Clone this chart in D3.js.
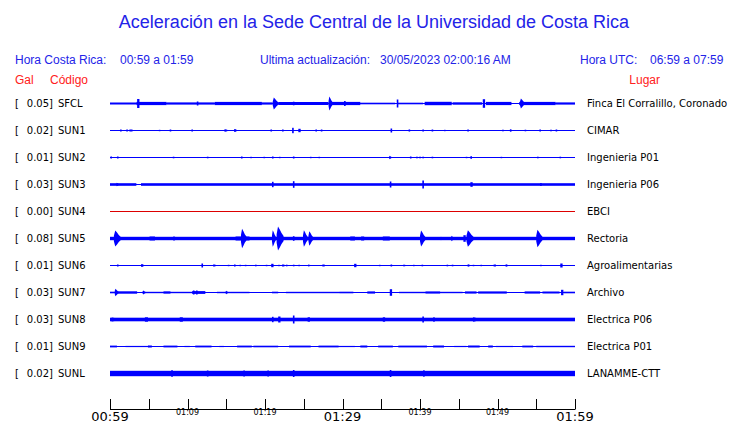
<!DOCTYPE html>
<html><head><meta charset="utf-8">
<script src="https://cdn.jsdelivr.net/npm/d3@7"></script>
<style>body{margin:0;background:#fff}svg{display:block}</style>
</head><body>
<script>
// ---------- DATA ----------
const titleText = "Aceleración en la Sede Central de la Universidad de Costa Rica";
const horaCR = "00:59 a 01:59";
const horaUTC = "06:59 a 07:59";
const updated = "30/05/2023 02:00:16 AM";
const codes = ["SFCL","SUN1","SUN2","SUN3","SUN4","SUN5","SUN6","SUN7","SUN8","SUN9","SUNL"];
const galValues = [0.05,0.02,0.01,0.03,0.00,0.08,0.01,0.03,0.03,0.01,0.02];
const places = ["Finca El Corralillo, Coronado","CIMAR","Ingenieria P01","Ingenieria P06","EBCI","Rectoria","Agroalimentarias","Archivo","Electrica P06","Electrica P01","LANAMME-CTT"];
const tickMinutes = [0,5,10,15,20,25,30,35,40,45,50,55,60];
const tickLabels = ["00:59","","01:09","","01:19","","01:29","","01:39","","01:49","","01:59"];
const majorTicks = ["00:59","01:29","01:59"];

// background bands [startMin, endMin, amplitude]
const bandSFCL = [[0,3.4,1.0],[3.4,7.3,1.6],[7.3,13.5,1.1],[13.5,19.6,1.6],[19.6,21.0,1.1],[21.7,28.2,1.5],[28.6,32.3,1.6],[32.3,36.8,0.8],[37.1,40.4,0.8],[40.6,44.1,1.7],[44.2,48.0,1.2],[48.5,51.8,1.6],[52.8,57.5,1.6],[57.5,60,1.1]];
const bandSUN1 = [];
const bandSUN2 = [];
const bandSUN3 = [[0,3.4,1.3],[4.0,60,1.3]];
const bandSUN4 = [];
const bandSUN5 = [[0,60,1.7],[5.1,5.8,2.0],[16.2,18.0,2.0],[31.0,31.6,2.0],[32.4,32.8,2.0],[35.2,36.1,2.0]];
const bandSUN6 = [];
const bandSUN7 = [[0,0.6,0.8],[1.0,3.5,1.2],[4.2,11.3,0.7],[6.9,7.8,1.1],[10.6,12.3,1.4],[13.8,15.5,0.7],[15.5,18.0,0.7],[20.9,21.7,0.8],[22.7,29.6,0.7],[29.6,31.4,0.8],[33.2,34.2,1.1],[37.3,40.7,0.7],[40.7,42.6,1.1],[42.6,45.5,0.7],[45.8,47.3,1.1],[47.5,51.2,1.1],[53.5,55.5,1.1],[55.8,58.0,1.0],[58.5,60,0.8]];
const bandSUN8 = [[0,60,1.8],[4.5,4.9,2.2],[9.0,9.4,2.2]];
const bandSUN9 = [[0,0.9,0.9],[2.0,5.1,0.6],[4.9,5.4,1.0],[6.9,8.7,0.9],[9.6,10.3,0.6],[11.0,13.1,0.9],[14.1,14.7,0.6],[16.4,18.3,0.9],[18.5,21.7,0.8],[23.1,25.9,0.9],[26.9,29.5,0.9],[29.5,31.6,0.6],[32.3,33.2,1.0],[34.6,36.5,0.9],[37.2,40.9,0.9],[41.7,43.1,1.0],[44.4,46.0,0.6],[46.2,47.7,1.0],[48.8,49.4,1.0],[49.8,52.0,0.6],[53.2,54.6,0.9],[55.0,60,0.7]];
const bandSUNL = [[0,60,2.7]];

// bursts / spikes [startMin, amplitude, durationMin]
const burstSFCL = [[3.5,4.5,0.3],[11.2,2.0,0.2],[21.0,6.0,0.7],[23.6,1.8,0.2],[28.2,7.0,0.5],[30.2,2.5,0.2],[37.0,4.0,0.2],[48.1,4.3,0.3],[52.9,5.0,0.6]];
const burstSUN1 = [[1.3,1,0.2],[2.1,1,0.1],[2.5,1,0.1],[2.7,1,0.1],[6.3,0.7,0.1],[7.7,1,0.1],[10.5,1,0.1],[14.7,1.3,0.7],[16.0,1.3,0.3],[20.7,1,0.1],[22.2,1,0.1],[23.5,2.7,0.2],[24.3,1.7,0.3],[26.5,1,0.1],[27.2,1,0.1],[36.2,2,0.2],[38.5,1.3,0.4],[40.3,1,0.2],[41.5,1,0.1],[43.1,0.7,0.1],[46.1,1,0.1],[50.6,0.8,0.1],[51.6,1.2,0.2],[53.5,0.8,0.1],[55.4,1,0.1],[56.8,0.8,0.1],[57.5,1,0.1]];
const burstSUN2 = [[0.05,1,0.1],[0.9,1,0.1],[8.1,0.8,0.1],[12.5,0.8,0.1],[16.9,1,0.1],[18.1,0.7,0.1],[19.8,0.7,0.1],[20.9,1,0.1],[21.8,0.7,0.1],[23.6,1,0.1],[25.8,0.7,0.1],[26.9,0.7,0.1],[36.0,1.7,0.4],[38.7,1,0.1],[39.5,0.8,0.1],[39.9,0.8,0.1],[40.3,0.8,0.1],[41.5,0.8,0.1],[45.9,0.7,0.1],[46.5,1.3,0.1],[50.4,0.7,0.1],[55.1,0.8,0.1],[58.0,0.8,0.1]];
const burstSUN3 = [[0.8,1.7,0.4],[20.9,2.7,0.2],[23.6,3.3,0.2],[36.1,3.0,0.2],[40.3,4.0,0.2],[46.5,2.3,0.3],[55.5,1.5,0.2]];
const burstSUN4 = [];
const burstSUN5 = [[0.5,8.0,0.9],[8.1,2.3,0.6],[16.9,9.7,0.7],[20.9,8.3,0.5],[21.5,12.0,0.9],[23.6,2.3,0.2],[24.9,8.3,0.6],[25.6,7.3,0.6],[40.0,8.0,0.7],[42.6,1.7,0.5],[44.0,2.7,0.4],[45.6,3.3,0.3],[46.0,8.3,0.9],[55.0,8.7,0.8]];
const burstSUN6 = [[0.9,1,0.1],[4.0,1.3,0.3],[11.8,2,0.15],[13.3,1,0.3],[15.2,0.7,0.1],[16.0,1,0.1],[16.7,0.7,0.1],[17.4,0.7,0.1],[18.7,1,0.4],[20.1,0.7,0.1],[20.8,1.7,0.3],[21.7,0.7,0.1],[22.2,1,0.3],[22.7,0.8,0.1],[23.6,0.8,0.1],[24.3,0.7,0.1],[25.5,1,0.5],[27.4,1,0.3],[31.5,1.7,0.3],[34.7,0.7,0.1],[36.2,1,0.2],[37.8,1,0.5],[39.1,0.7,0.1],[40.2,0.8,0.1],[43.4,1,0.4],[44.1,0.8,0.1],[46.1,1.3,0.5],[46.8,0.7,0.1],[47.8,0.7,0.1],[49.5,1,0.3],[51.0,1.3,0.5],[55.5,0.7,0.1],[58.1,2,0.3]];
const burstSUN7 = [[0.6,3.7,0.5],[4.2,2.0,0.4],[10.7,2.0,0.2],[11.1,2.0,0.2],[14.9,1.7,0.4],[36.1,3.3,0.3],[58.2,2.7,0.3]];
const burstSUN8 = [[0.0,2.0,1.3],[20.9,2.7,0.2],[21.7,3.0,0.3],[23.6,4.0,0.2],[25.5,2.2,0.3],[35.2,2.2,0.3],[40.3,3.0,0.2],[41.7,2.2,0.2],[46.7,2.2,1.0]];
const burstSUN9 = [];
const burstSUNL = [[7.9,3.3,0.2],[12.5,3.0,0.1],[17.2,3.0,0.2],[20.3,3.0,0.2],[23.6,3.5,0.2],[36.1,3.5,0.2],[40.4,3.2,0.2]];

const bands = [bandSFCL,bandSUN1,bandSUN2,bandSUN3,bandSUN4,bandSUN5,bandSUN6,bandSUN7,bandSUN8,bandSUN9,bandSUNL];
const bursts = [burstSFCL,burstSUN1,burstSUN2,burstSUN3,burstSUN4,burstSUN5,burstSUN6,burstSUN7,burstSUN8,burstSUN9,burstSUNL];

// ---------- DRAW ----------
const W = 740, H = 423;
const BLUE_TXT = "#2323e8", RED_TXT = "#ff2020", TRACE = "#0000ff";
const svg = d3.select("body").append("svg").attr("width", W).attr("height", H);

const x = d3.scaleLinear().domain([0, 60]).range([110, 575]);
const row = d3.scaleBand().domain(codes).range([89, 386]).paddingInner(0);
const amp = d3.scaleLinear().domain([0, 10]).range([0, 10]);
const cy = c => Math.round(row(c) + row.bandwidth() / 2) + 0.5;

// Title
svg.append("text").attr("x", 374).attr("y", 28).attr("text-anchor", "middle")
  .attr("font-family", "Liberation Sans, Arial, sans-serif").attr("font-size", 18)
  .attr("fill", BLUE_TXT).text(titleText);

const hdr = svg.append("g").attr("font-family", "Liberation Sans, Arial, sans-serif")
  .attr("font-size", 12);
hdr.append("text").attr("x", 15).attr("y", 64).attr("fill", BLUE_TXT).text("Hora Costa Rica:");
hdr.append("text").attr("x", 120).attr("y", 64).attr("fill", BLUE_TXT).text(horaCR);
hdr.append("text").attr("x", 260).attr("y", 64).attr("fill", BLUE_TXT).text("Ultima actualización:");
hdr.append("text").attr("x", 380).attr("y", 64).attr("fill", BLUE_TXT).text(updated);
hdr.append("text").attr("x", 580).attr("y", 64).attr("fill", BLUE_TXT).text("Hora UTC:");
hdr.append("text").attr("x", 650).attr("y", 64).attr("fill", BLUE_TXT).text(horaUTC);
hdr.append("text").attr("x", 15).attr("y", 84).attr("fill", RED_TXT).text("Gal");
hdr.append("text").attr("x", 50).attr("y", 84).attr("fill", RED_TXT).text("Código");
hdr.append("text").attr("x", 660).attr("y", 84).attr("text-anchor", "end").attr("fill", RED_TXT).text("Lugar");

// Row labels
const lab = svg.append("g").attr("font-family", "DejaVu Sans, sans-serif").attr("font-size", 10).attr("fill", "#000");
codes.forEach((c, i) => {
  const y = cy(c) + 3.5;
  lab.append("text").attr("x", 15).attr("y", y).text("[");
  lab.append("text").attr("x", 53).attr("y", y).attr("text-anchor", "end").text(galValues[i].toFixed(2) + "]");
  lab.append("text").attr("x", 58).attr("y", y).text(c);
  lab.append("text").attr("x", 587).attr("y", y).text(places[i]);
});

// Traces
const spindle = d3.area().x(d => d[0]).y0(d => d[1]).y1(d => d[2]);
codes.forEach((c, i) => {
  const g = svg.append("g");
  const y0 = cy(c);
  const col = c === "SUN4" ? "#dd0000" : TRACE;
  g.append("line").attr("x1", x(0)).attr("x2", x(60)).attr("y1", y0).attr("y2", y0)
    .attr("stroke", col).attr("stroke-width", 1);
  g.selectAll("rect.band").data(bands[i]).join("rect").attr("class", "band")
    .attr("x", d => x(d[0])).attr("width", d => x(d[1]) - x(d[0]))
    .attr("y", d => y0 - amp(d[2])).attr("height", d => 2 * amp(d[2]))
    .attr("fill", col);
  bursts[i].forEach(d => {
    const [t, a, dur] = d;
    const xa = x(t), xb = Math.max(x(t + dur), xa + 1.6);
    if (xb - xa < 2.5) {
      g.append("rect").attr("x", xa).attr("width", xb - xa)
        .attr("y", y0 - amp(a)).attr("height", 2 * amp(a)).attr("fill", col);
    } else {
      const w = xb - xa;
      const pts = [[xa, 0.35], [xa + w * 0.2, 1], [xa + w * 0.45, 0.75], [xa + w * 0.7, 0.45], [xb, 0.2]]
        .map(p => [p[0], y0 - amp(a) * p[1], y0 + amp(a) * p[1]]);
      g.append("path").attr("d", spindle(pts)).attr("fill", col);
    }
  });
});

// Time axis
const ax = svg.append("g");
ax.append("line").attr("x1", x(0)).attr("x2", x(60)).attr("y1", 409.5).attr("y2", 409.5)
  .attr("stroke", "#000").attr("stroke-width", 1);
ax.selectAll("line.tick").data(tickMinutes).join("line").attr("class", "tick")
  .attr("x1", d => Math.round(x(d)) + 0.5).attr("x2", d => Math.round(x(d)) + 0.5)
  .attr("y1", 399).attr("y2", 409.5).attr("stroke", "#000");
ax.selectAll("text").data(tickMinutes).join("text")
  .attr("x", d => x(d)).attr("text-anchor", "middle")
  .attr("y", (d, i) => majorTicks.includes(tickLabels[i]) ? 421 : 414.5)
  .attr("font-family", "DejaVu Sans, sans-serif")
  .attr("font-size", (d, i) => majorTicks.includes(tickLabels[i]) ? 13 : 8)
  .attr("fill", "#000")
  .text((d, i) => tickLabels[i]);
</script>
</body></html>
